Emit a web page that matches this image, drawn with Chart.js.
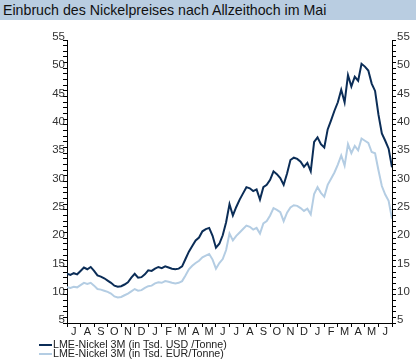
<!DOCTYPE html>
<html>
<head>
<meta charset="utf-8">
<script src="https://cdn.jsdelivr.net/npm/chart.js@4"></script>
<style>
body { margin: 0; width: 416px; height: 361px; overflow: hidden; background: #fff; position: relative; font-family: "Liberation Sans", Arial, sans-serif; }
#title { position: absolute; left: 0; top: 0; width: 416px; height: 20px; background: #b9cde1; color: #111; font-size: 14.2px; line-height: 21px; padding-left: 3px; box-sizing: border-box; white-space: nowrap; }
#chart { position: absolute; left: 0; top: 0; }
#legend { position: absolute; left: 39px; top: 340px; font-size: 10.7px; color: #222; }
.row { height: 9px; line-height: 9px; white-space: nowrap; }
.key { display: inline-block; width: 13px; height: 2px; vertical-align: middle; margin-right: 1px; }
</style>
</head>
<body>
<canvas id="chart" width="416" height="361"></canvas>
<div id="title">Einbruch des Nickelpreises nach Allzeithoch im Mai</div>
<div id="legend">
    <div class="row"><span class="key" style="background:#0b2d57"></span>LME-Nickel 3M (in Tsd. USD /Tonne)</div>
    <div class="row"><span class="key" style="background:#b4cde3"></span>LME-Nickel 3M (in Tsd. EUR/Tonne)</div>
</div>
<script>
// month letters, Jul 2005 .. Jun 2007
const months = ['J', 'A', 'S', 'O', 'N', 'D', 'J', 'F', 'M', 'A', 'M', 'J',
    'J', 'A', 'S', 'O', 'N', 'D', 'J', 'F', 'M', 'A', 'M', 'J'];

// weekly readings (4 per month), in thousand per tonne
const usd = [
    13.7, 13.5, 13.8, 13.6, 14.2, 14.8, 14.5, 14.9, 14.2, 13.4, 13.2, 12.9,
    12.5, 12.1, 11.6, 11.4, 11.5, 11.8, 12.2, 13.0, 13.7, 13.0, 13.1, 13.6,
    14.3, 14.2, 14.6, 14.9, 14.7, 15.0, 14.8, 14.6, 14.5, 14.6, 15.0, 16.3,
    17.6, 18.6, 19.6, 20.1, 21.2, 21.6, 21.8, 20.4, 18.3, 19.0, 20.5, 22.8,
    26.0, 24.0, 25.5, 26.8, 27.9, 29.0, 28.8, 28.3, 28.6, 26.8, 29.0, 29.4,
    30.3, 31.8, 31.3, 30.6, 29.4, 31.4, 33.8, 34.2, 34.0, 33.5, 32.6, 33.3,
    31.8, 37.0, 37.8, 36.6, 36.0, 39.2, 40.8, 42.5, 44.0, 46.2, 44.0, 48.8,
    46.8, 48.5, 47.8, 50.8, 50.3, 49.6, 47.3, 46.0, 41.8, 38.5, 37.2, 35.8,
    32.5
];
const eur = [
    11.3, 11.2, 11.4, 11.3, 11.7, 12.1, 11.9, 12.1, 11.6, 11.0, 10.9, 10.7,
    10.5, 10.2, 9.7, 9.5, 9.6, 9.9, 10.2, 10.6, 11.0, 10.7, 10.8, 11.2,
    11.5, 11.6, 12.0, 12.2, 12.1, 12.4, 12.3, 12.1, 12.0, 12.1, 12.4, 13.4,
    14.5, 15.1, 15.6, 16.0, 16.6, 16.9, 17.2, 16.2, 14.6, 15.6, 16.3, 17.9,
    20.8, 19.6, 20.4, 21.0, 21.6, 22.2, 22.0, 21.5, 21.8, 20.8, 22.6, 23.0,
    24.0, 25.3, 25.0, 24.6, 23.0, 24.5, 25.4, 25.8, 25.7, 25.3, 24.8, 25.2,
    24.2, 27.8, 29.0, 28.0, 27.3, 29.4, 30.5, 31.6, 33.0, 34.6, 32.8, 36.6,
    35.0, 36.3, 35.5, 37.6, 37.2, 36.8, 35.2, 35.0, 32.0, 29.2, 27.7, 26.6,
    23.4
];
const yMin = 5;
const yMax = 55;

const toPoints = arr => arr.map((v, i) => ({ x: i / 4, y: v }));
const tickFont = { family: '"Liberation Sans", Arial, sans-serif', size: 11.5 };

const yAxis = (pos, width, pad) => ({
    type: 'linear',
    position: pos,
    min: yMin,
    max: yMax,
    border: { display: true, color: '#000', width: 1 },
    grid: { drawOnChartArea: false, tickLength: 4, tickColor: '#000' },
    ticks: {
        stepSize: 1,
        autoSkip: false,
        padding: pad,
        labelOffset: -3,
        color: '#333',
        font: tickFont,
        callback: v => v % 5 === 0 ? v : ''
    },
    afterFit: s => { s.width = width; }
});

new Chart(document.getElementById('chart'), {
    type: 'line',
    data: {
        datasets: [{
            label: 'LME-Nickel 3M (in Tsd. USD /Tonne)',
            data: toPoints(usd),
            borderColor: '#0b2d57',
            borderWidth: 2,
            pointRadius: 0,
            yAxisID: 'y'
        }, {
            label: 'LME-Nickel 3M (in Tsd. EUR/Tonne)',
            data: toPoints(eur),
            borderColor: '#b4cde3',
            borderWidth: 2,
            pointRadius: 0,
            yAxisID: 'y'
        }]
    },
    options: {
        responsive: false,
        animation: false,
        devicePixelRatio: 1,
        layout: { padding: { top: 40, left: 0, right: 0, bottom: 0 } },
        plugins: { legend: { display: false }, tooltip: { enabled: false } },
        scales: {
            x: {
                type: 'linear',
                min: 0,
                max: 24,
                border: { display: true, color: '#000', width: 1 },
                grid: {
                    drawOnChartArea: false,
                    tickLength: 4,
                    tickColor: c => (c.tick && c.tick.value % 1 === 0) ? '#000' : 'rgba(0,0,0,0)'
                },
                ticks: {
                    stepSize: 0.5,
                    autoSkip: false,
                    maxRotation: 0,
                    padding: -2,
                    color: '#222',
                    font: { family: '"Liberation Sans", Arial, sans-serif', size: 11 },
                    callback: v => v % 1 !== 0 ? months[Math.floor(v)] : ''
                },
                afterFit: s => { s.height = 38; }
            },
            y: yAxis('left', 67, -2),
            y2: yAxis('right', 24, 1)
        }
    }
});
</script>
</body>
</html>
